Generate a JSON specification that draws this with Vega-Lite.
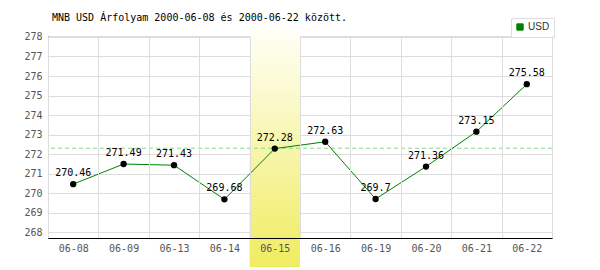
{
  "$schema": "https://vega.github.io/schema/vega-lite/v6.json",
  "width": 504,
  "height": 202,
  "autosize": {"type": "none"},
  "padding": {"left": 48, "top": 36, "right": 48, "bottom": 32},
  "background": "#ffffff",
  "title": {
    "text": "MNB USD Árfolyam 2000-06-08 és 2000-06-22 között.",
    "anchor": "start",
    "frame": "group",
    "font": "DejaVu Sans Mono",
    "fontSize": 10,
    "fontWeight": "normal",
    "color": "#000000",
    "offset": 13,
    "dx": 4,
    "dy": 18
  },
  "config": {
    "axisY": {
      "labelOverlap": false,
      "tickCount": 11,
      "zindex": 0,
      "grid": true,
      "gridColor": "#dddddd",
      "gridWidth": 1,
      "ticks": false,
      "domain": true,
      "domainColor": "#000000",
      "domainWidth": 1,
      "labelFont": "DejaVu Sans Mono",
      "labelFontSize": 10,
      "labelColor": "#555555",
      "labelPadding": 6
    }
  },
  "datasets": {
    "rates": [
      {"date": "06-08", "rate": 270.46},
      {"date": "06-09", "rate": 271.49},
      {"date": "06-13", "rate": 271.43},
      {"date": "06-14", "rate": 269.68},
      {"date": "06-15", "rate": 272.28},
      {"date": "06-16", "rate": 272.63},
      {"date": "06-19", "rate": 269.7},
      {"date": "06-20", "rate": 271.36},
      {"date": "06-21", "rate": 273.15},
      {"date": "06-22", "rate": 275.58}
    ],
    "highlight": [{"date": "06-15", "lo": 266.21, "hi": 278.46}],
    "avg": [{"avg": 272.3}]
  },
  "layer": [
    {
      "data": {"name": "highlight"},
      "mark": {
        "type": "rect",
        "fill": {
          "gradient": "linear",
          "x1": 0, "y1": 0, "x2": 0, "y2": 1,
          "stops": [
            {"offset": 0, "color": "#fffff8"},
            {"offset": 1, "color": "#f0ec60"}
          ]
        }
      },
      "encoding": {
        "x": {
          "field": "date",
          "type": "nominal",
          "sort": null,
          "scale": {"domain": ["06-08", "06-09", "06-13", "06-14", "06-15", "06-16", "06-19", "06-20", "06-21", "06-22"], "paddingInner": 0, "paddingOuter": 0},
          "title": null,
          "axis": {
            "zindex": 1,
            "grid": true,
            "gridColor": "#dddddd",
            "gridWidth": 1,
            "tickBand": "extent",
            "ticks": false,
            "domain": true,
            "domainColor": "#000000",
            "domainWidth": 1,
            "labelFont": "DejaVu Sans Mono",
            "labelFontSize": 10,
            "labelColor": "#555555",
            "labelPadding": 5,
            "labelAngle": 0
          }
        },
        "y": {
          "field": "lo",
          "type": "quantitative",
          "scale": {"domain": [267.7, 278.05], "nice": false, "zero": false},
          "title": null,
          "axis": {"values": [268, 269, 270, 271, 272, 273, 274, 275, 276, 277, 278], "labelOverlap": false}
        },
        "y2": {"field": "hi"}
      }
    },
    {
      "data": {"name": "avg"},
      "mark": {"type": "rule", "stroke": "#88d888", "strokeWidth": 1, "strokeDash": [4, 3]},
      "encoding": {
        "y": {"field": "avg", "type": "quantitative", "axis": {"values": [268, 269, 270, 271, 272, 273, 274, 275, 276, 277, 278], "labelOverlap": false}}
      }
    },
    {
      "data": {"name": "rates"},
      "mark": {"type": "line", "strokeWidth": 1},
      "encoding": {
        "x": {"field": "date", "type": "nominal", "sort": null},
        "y": {"field": "rate", "type": "quantitative", "axis": {"values": [268, 269, 270, 271, 272, 273, 274, 275, 276, 277, 278], "labelOverlap": false}},
        "color": {
          "datum": "USD",
          "scale": {"range": ["#008000"]},
          "legend": {
            "title": null,
            "orient": "none",
            "legendX": 463,
            "legendY": -18,
            "padding": 4,
            "strokeColor": "#dddddd",
            "fillColor": "#ffffff",
            "symbolType": "square",
            "symbolSize": 40,
            "labelFont": "Liberation Sans",
            "labelFontSize": 10,
            "labelColor": "#333333",
            "labelOffset": 3,
            "encode": {
              "symbols": {"update": {"fill": {"value": "#008000"}, "stroke": {"value": "#005000"}, "strokeWidth": {"value": 1}}}
            }
          }
        }
      }
    },
    {
      "data": {"name": "rates"},
      "mark": {"type": "point", "filled": true, "color": "#000000", "size": 40, "opacity": 1},
      "encoding": {
        "x": {"field": "date", "type": "nominal", "sort": null},
        "y": {"field": "rate", "type": "quantitative"}
      }
    },
    {
      "data": {"name": "rates"},
      "mark": {"type": "text", "font": "DejaVu Sans Mono", "fontSize": 10, "color": "#000000", "dy": -11, "baseline": "middle"},
      "encoding": {
        "x": {"field": "date", "type": "nominal", "sort": null},
        "y": {"field": "rate", "type": "quantitative"},
        "text": {"field": "rate", "type": "nominal"}
      }
    }
  ]
}
